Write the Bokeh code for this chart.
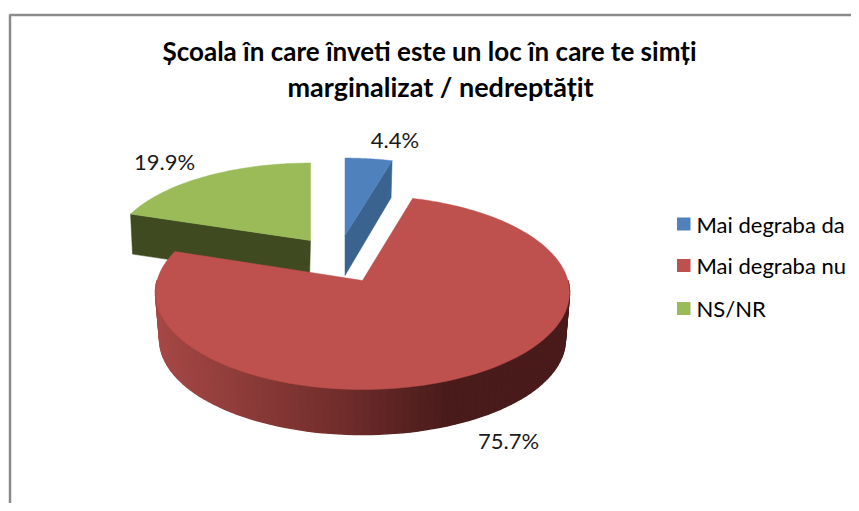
import math
from bokeh.plotting import figure
from bokeh.models import Range1d
from bokeh.core.properties import value
from bokeh.embed import file_html
from bokeh.resources import INLINE

title_lines = ["Școala în care înveti este un loc în care te simți", "marginalizat / nedreptățit"]
categories = ["Mai degraba da", "Mai degraba nu", "NS/NR"]
values = [4.4, 75.7, 19.9]
labels = ["4.4%", "75.7%", "19.9%"]
top_colors = ["#4F81BD", "#BE504D", "#9BBB59"]
side_colors = ["#3A6390", None, "#3F4A20"]

W, H = 851, 503
p = figure(width=W, height=H, output_backend="svg", toolbar_location=None,
           x_range=Range1d(0, W), y_range=Range1d(H, 0),
           min_border=0, outline_line_color=None)
p.axis.visible = False
p.grid.visible = False
p.background_fill_color = "#ffffff"
p.border_fill_color = "#ffffff"

K = 0.1237  # perspective strength


def rim(apex, a, b, deg):
    t = math.radians(deg)
    u, v = math.sin(t), -math.cos(t)
    d = 1 - K * v
    return apex[0] + a * u / d, apex[1] + b * v / d


def arc(apex, a, b, d0, d1, n=80):
    return [rim(apex, a, b, d0 + (d1 - d0) * i / n) for i in range(n + 1)]


def poly(points, color, lw=0.5):
    p.patch([q[0] for q in points], [q[1] for q in points], fill_color=color, line_color=color, line_width=lw)


total = sum(values)
a0 = 0
spans = []
for v_ in values:
    spans.append((a0, a0 + v_ / total * 360))
    a0 += v_ / total * 360

# frame: only the top and left edges are in view
p.line([9.5, 9.5, W], [H, 14.5, 14.5], line_color="#8a8a8a", line_width=2.5)

# green slice
g_apex, g_a, g_b, g_depth = (310, 240), 197, 87, 40
s, e = spans[2]
g_arc = arc(g_apex, g_a, g_b, s, e)
c0 = rim(g_apex, g_a, g_b, s)
poly([c0, g_apex, (g_apex[0] - 1, g_apex[1] + g_depth), (c0[0] + 2, c0[1] + g_depth)], side_colors[2])
poly([g_apex] + g_arc, top_colors[2])

# blue slice
b_apex, b_a, b_b, b_depth = (344.5, 235), 193, 87, 40
s, e = spans[0]
b_arc = arc(b_apex, b_a, b_b, s, e)
c1 = rim(b_apex, b_a, b_b, e)
poly([b_apex, c1, (c1[0] - 1, c1[1] + b_depth - 3), (b_apex[0], b_apex[1] + b_depth)], side_colors[0])
poly([b_apex] + b_arc, top_colors[0])

# red slice
r_apex, r_a, r_b = (362, 280), 205.4, 95.5
s, e = spans[1]
r_cx, r_cy, r_scale, r_shift = 361.5, 292, 0.98, 47


def lower(q):
    return r_cx + (q[0] - r_cx) * r_scale, r_cy + r_shift + (q[1] - r_cy) * r_scale


def lerp_hex(c1_, c2_, t):
    return "#" + "".join(f"{round(c1_[i] + (c2_[i] - c1_[i]) * t):02x}" for i in range(3))


red_l, red_m, red_r = (166, 72, 70), (112, 45, 43), (74, 27, 27)
n = 90
d0, d1 = 90, 270
for i in range(n):
    q0 = rim(r_apex, r_a, r_b, d0 + (d1 - d0) * i / n)
    q1 = rim(r_apex, r_a, r_b, d0 + (d1 - d0) * (i + 1) / n)
    f = ((q0[0] + q1[0]) / 2 - 155) / (569 - 155)
    if f < 0.45:
        col = lerp_hex(red_l, red_m, f / 0.45)
    elif f < 0.70:
        col = lerp_hex(red_m, red_r, (f - 0.45) / 0.25)
    else:
        col = lerp_hex(red_r, red_r, 0)
    poly([q0, q1, lower(q1), lower(q0)], col, 1.5)
poly([r_apex] + arc(r_apex, r_a, r_b, s, e, 200), top_colors[1])

# texts
p.text([429], [50.5], text=[title_lines[0]], text_font=value("Lato"), text_font_style="bold", text_font_size="26px",
       text_align="center", text_baseline="middle", text_color="#000000")
p.text([440], [85.5], text=[title_lines[1]], text_font=value("Lato"), text_font_style="bold", text_font_size="27px",
       text_align="center", text_baseline="middle", text_color="#000000")
p.text([394.5, 508, 164], [139, 440, 161], text=labels, text_font=value("Lato"), text_font_size="22px",
       text_align="center", text_baseline="middle", text_color="#1a1a1a")

# legend
leg_y = [223.5, 265, 308]
p.quad(left=[676.5] * 3, right=[690] * 3, top=[y - 6.5 for y in leg_y], bottom=[y + 6.5 for y in leg_y],
       fill_color=top_colors, line_color=None)
p.text([696] * 3, leg_y, text=categories, text_font=value("Lato"), text_font_size="22px",
       text_align="left", text_baseline="middle", text_color="#000000")

open("out.html", "w").write(file_html(p, INLINE))
